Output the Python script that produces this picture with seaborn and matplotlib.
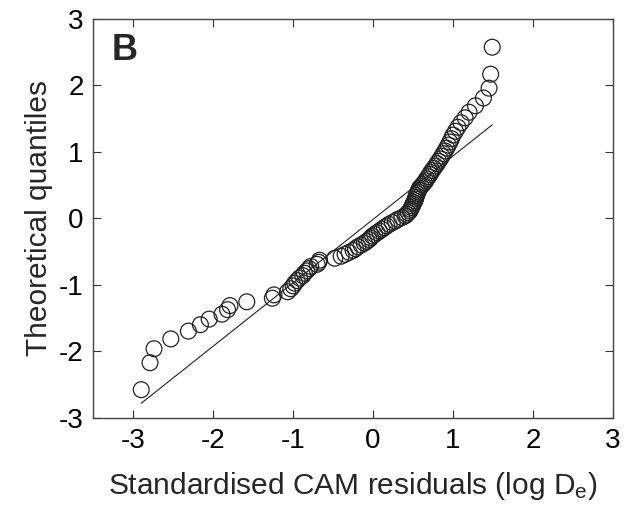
import numpy as np
import pandas as pd
import matplotlib
matplotlib.use("Agg")
import matplotlib.pyplot as plt
import seaborn as sns

# Theoretical normal quantiles (n = 100) on the y axis
theoretical_quantiles = [
    -2.576, -2.170, -1.960, -1.812, -1.695, -1.598, -1.514, -1.440, -1.372, -1.311,
    -1.254, -1.200, -1.150, -1.103, -1.058, -1.015, -0.974, -0.935, -0.896, -0.860,
    -0.824, -0.789, -0.755, -0.722, -0.690, -0.659, -0.628, -0.598, -0.568, -0.539,
    -0.510, -0.482, -0.454, -0.426, -0.399, -0.372, -0.345, -0.319, -0.292, -0.266,
    -0.240, -0.215, -0.189, -0.164, -0.138, -0.113, -0.088, -0.063, -0.038, -0.013,
    0.013, 0.038, 0.063, 0.088, 0.113, 0.138, 0.164, 0.189, 0.215, 0.240,
    0.266, 0.292, 0.319, 0.345, 0.372, 0.399, 0.426, 0.454, 0.482, 0.510,
    0.539, 0.568, 0.598, 0.628, 0.659, 0.690, 0.722, 0.755, 0.789, 0.824,
    0.860, 0.896, 0.935, 0.974, 1.015, 1.058, 1.103, 1.150, 1.200, 1.254,
    1.311, 1.372, 1.440, 1.514, 1.598, 1.695, 1.812, 1.960, 2.170, 2.576,
]

# Sorted standardised CAM residuals (x axis)
residuals = [
    -2.90, -2.79, -2.74, -2.53, -2.31, -2.16, -2.05, -1.89, -1.82, -1.79,
    -1.58, -1.26, -1.24, -1.07, -1.03, -1.00, -0.98, -0.95, -0.92, -0.88,
    -0.86, -0.83, -0.80, -0.78, -0.70, -0.68, -0.67, -0.48, -0.40, -0.35,
    -0.30, -0.25, -0.22, -0.19, -0.15, -0.11, -0.08, -0.05, -0.03, -0.01,
    0.02, 0.05, 0.08, 0.11, 0.14, 0.17, 0.20, 0.24, 0.28, 0.31,
    0.36, 0.40, 0.42, 0.44, 0.46, 0.47, 0.48, 0.49, 0.50, 0.51,
    0.52, 0.53, 0.535, 0.54, 0.55, 0.56, 0.57, 0.58, 0.60, 0.62,
    0.64, 0.66, 0.67, 0.69, 0.71, 0.72, 0.74, 0.76, 0.78, 0.80,
    0.82, 0.84, 0.86, 0.88, 0.90, 0.92, 0.94, 0.96, 0.98, 1.00,
    1.03, 1.06, 1.10, 1.15, 1.20, 1.28, 1.38, 1.45, 1.47, 1.49,
]

x_ticks = [-3, -2, -1, 0, 1, 2, 3]
y_ticks = [-3, -2, -1, 0, 1, 2, 3]

sns.set_theme(style="white")
plt.rcParams["font.family"] = ["Liberation Sans", "DejaVu Sans"]
plt.rcParams["mathtext.default"] = "regular"

df = pd.DataFrame({"resid": residuals, "q": theoretical_quantiles})

# Reference line through the first and third quartiles, over the data range
xq1, xq3 = np.percentile(df["resid"], [25, 75])
yq1, yq3 = np.percentile(df["q"], [25, 75])
slope = (yq3 - yq1) / (xq3 - xq1)
xl = np.array([df["resid"].min(), df["resid"].max()])
line_df = pd.DataFrame({"x": xl, "y": yq1 + slope * (xl - xq1)})

fig = plt.figure(figsize=(6.30, 5.14), dpi=100)
ax = fig.add_axes([0.148, 0.187, 0.825, 0.776])

sns.lineplot(data=line_df, x="x", y="y", ax=ax, color="#222222", lw=0.8)
sns.scatterplot(data=df, x="resid", y="q", ax=ax, marker="o", s=130,
                facecolor="none", edgecolor="#222222", linewidth=0.9, zorder=3)

ax.set_xlim(-3.5, 3)
ax.set_ylim(-3, 3)
ax.set_xticks(x_ticks)
ax.set_yticks(y_ticks)
ax.set_xticklabels([str(t) for t in x_ticks])
ax.set_yticklabels([str(t) for t in y_ticks])
ax.tick_params(direction="in", length=6, width=0.8, colors="#333333",
               labelsize=20, labelcolor="black", top=True, right=True,
               bottom=True, left=True, pad=7)
for s in ax.spines.values():
    s.set_color("#444444")
    s.set_linewidth(1.0)

ax.set_xlabel("Standardised CAM residuals (log D$_e$)", fontsize=21.5, labelpad=12)
ax.set_ylabel("Theoretical quantiles", fontsize=21.5, labelpad=4)
ax.text(0.035, 0.965, "B", transform=ax.transAxes, fontsize=26,
        fontweight="bold", va="top", ha="left")

fig.savefig("out.png", dpi=100)
